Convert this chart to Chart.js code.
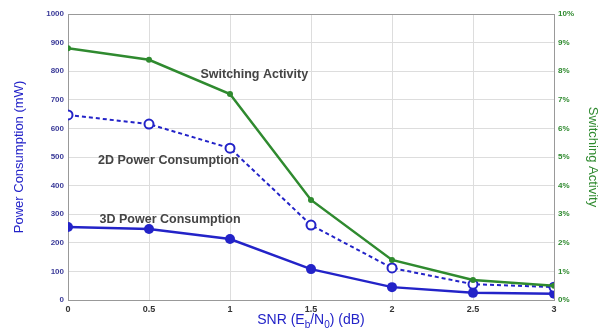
<!DOCTYPE html>
<html><head><meta charset="utf-8">
<script src="https://cdn.jsdelivr.net/npm/chart.js@4/dist/chart.umd.min.js"></script>
<style>html,body{margin:0;padding:0;background:#fff}#wrap{width:600px;height:330px}</style>
</head><body><div id="wrap"><canvas id="c" width="600" height="330"></canvas></div>
<script>
const snr = [0, 0.5, 1, 1.5, 2, 2.5, 3];
const power2D = [647, 615, 531, 262, 112, 55, 45];
const power3D = [255, 248, 213, 108, 45, 25, 22];
const switching = [8.8, 8.4, 7.2, 3.5, 1.4, 0.7, 0.5];
const labels = [
  {text: 'Switching Activity', x: 1.15, y: 790},
  {text: '2D Power Consumption', x: 0.62, y: 486},
  {text: '3D Power Consumption', x: 0.63, y: 280}
];

const toXY = (xs, ys) => xs.map((x, i) => ({x: x, y: ys[i]}));
const blue = '#2323c8';
const green = '#2f8a2f';

const annot = {
  id: 'annot',
  afterDatasetsDraw(chart) {
    const ctx = chart.ctx, xs = chart.scales.x, ys = chart.scales.y;
    ctx.save();
    ctx.font = '600 12.5px "Liberation Sans", Arial, sans-serif';
    ctx.fillStyle = '#444';
    ctx.textAlign = 'center';
    ctx.textBaseline = 'middle';
    labels.forEach(l => ctx.fillText(l.text, xs.getPixelForValue(l.x), ys.getPixelForValue(l.y)));
    // x axis title with subscripts
    const parts = [['SNR (E', 14, 0], ['b', 10, 4], ['/N', 14, 0], ['0', 10, 4], [') (dB)', 14, 0]];
    let total = 0;
    parts.forEach(p => { ctx.font = p[1] + 'px "Liberation Sans", Arial, sans-serif'; total += ctx.measureText(p[0]).width; });
    const ca = chart.chartArea;
    let x = (ca.left + ca.right) / 2 - total / 2;
    const base = 324;
    ctx.fillStyle = blue;
    ctx.textAlign = 'left';
    ctx.textBaseline = 'alphabetic';
    parts.forEach(p => {
      ctx.font = p[1] + 'px "Liberation Sans", Arial, sans-serif';
      ctx.fillText(p[0], x, base + p[2]);
      x += ctx.measureText(p[0]).width;
    });
    ctx.restore();
  }
};

new Chart(document.getElementById('c'), {
  type: 'line',
  data: {
    datasets: [
      {label: 'Switching Activity', data: toXY(snr, switching), yAxisID: 'y1', borderColor: green, backgroundColor: green, borderWidth: 2.5, pointRadius: 3, pointBorderWidth: 0},
      {label: '2D Power Consumption', data: toXY(snr, power2D), yAxisID: 'y', borderColor: blue, backgroundColor: '#ffffff', borderWidth: 2, borderDash: [4, 3], pointRadius: 4.5, pointBorderWidth: 2, pointBorderColor: blue},
      {label: '3D Power Consumption', data: toXY(snr, power3D), yAxisID: 'y', borderColor: blue, backgroundColor: blue, borderWidth: 2.5, pointRadius: 5, pointBorderWidth: 0}
    ]
  },
  options: {
    responsive: false,
    animation: false,
    layout: {padding: {top: 14, bottom: 0, left: 0, right: 0}},
    plugins: {legend: {display: false}, tooltip: {enabled: false}},
    scales: {
      x: {
        type: 'linear', min: 0, max: 3,
        ticks: {stepSize: 0.5, color: '#333', font: {size: 9, weight: 'bold'}, padding: 4, callback: v => String(v)},
        grid: {color: '#dddddd', drawTicks: false},
        border: {color: '#999'},
        afterFit: s => { s.height = 30; }
      },
      y: {
        position: 'left', min: 0, max: 1000,
        ticks: {stepSize: 100, color: '#3b3b99', font: {size: 8, weight: 'bold'}, padding: 4, callback: v => String(v)},
        grid: {color: '#dddddd', drawTicks: false},
        border: {color: '#999'},
        title: {display: true, text: 'Power Consumption (mW)', color: blue, font: {size: 13, family: '"Liberation Sans", Arial, sans-serif'}, padding: {top: 12, bottom: 0}},
        afterFit: s => { s.width = 68; }
      },
      y1: {
        position: 'right', min: 0, max: 10,
        ticks: {stepSize: 1, color: green, font: {size: 8, weight: 'bold'}, padding: 4, callback: v => v + '%'},
        grid: {display: false, drawTicks: false},
        border: {color: '#999'},
        title: {display: true, text: 'Switching Activity', color: green, font: {size: 13, family: '"Liberation Sans", Arial, sans-serif'}, padding: {top: 0, bottom: 3}},
        afterFit: s => { s.width = 46; }
      }
    }
  },
  plugins: [annot, {
    id: 'frame',
    afterDraw(chart) {
      const ca = chart.chartArea, ctx = chart.ctx;
      ctx.save(); ctx.strokeStyle = '#999'; ctx.lineWidth = 1;
      ctx.beginPath(); ctx.moveTo(ca.left, ca.top + 0.5); ctx.lineTo(ca.right, ca.top + 0.5); ctx.stroke();
      ctx.restore();
    }
  }]
});
</script>
</body></html>
